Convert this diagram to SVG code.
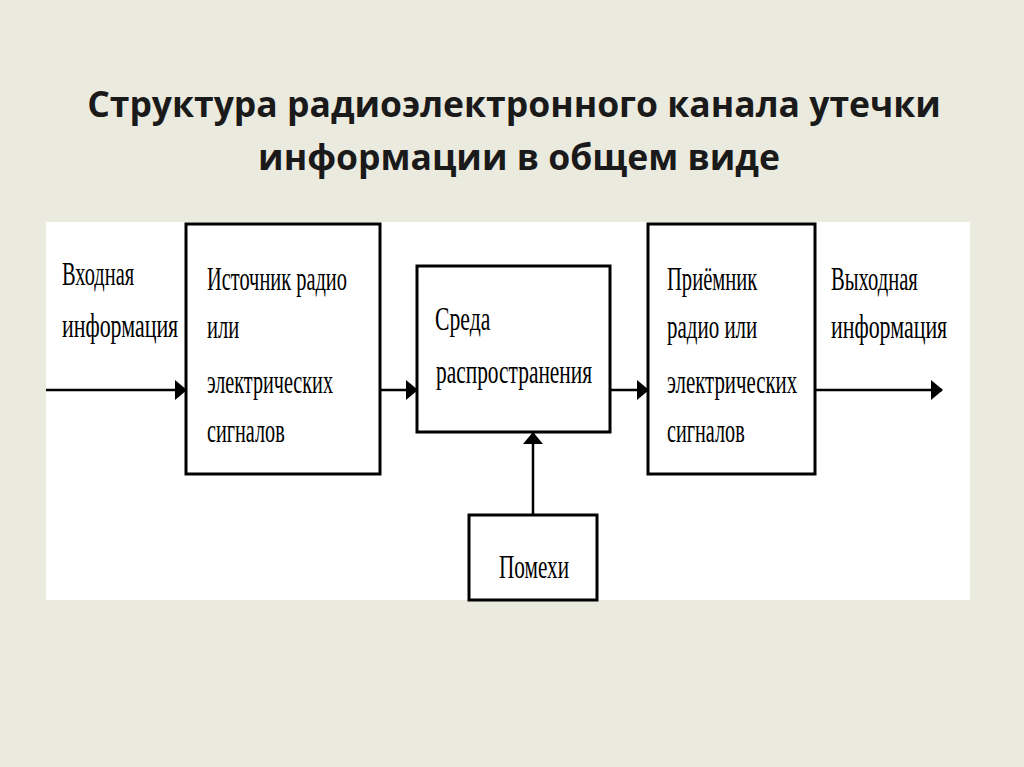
<svg xmlns="http://www.w3.org/2000/svg" width="1024" height="767" viewBox="0 0 1024 767">
<style>
.title{font-family:"Open Sans","Liberation Sans",sans-serif;font-weight:bold;font-size:35.5px;fill:#1a1a1a;text-anchor:middle}
.t{font-family:"Liberation Serif",serif;font-size:34px;fill:#000}
.box{fill:#fff;stroke:#000;stroke-width:3}
.ln{stroke:#000;stroke-width:2.5;fill:none}
</style>
<defs>
<marker id="ah" markerWidth="12" markerHeight="20" refX="11" refY="10" orient="auto" markerUnits="userSpaceOnUse">
<path d="M0,0 L12,10 L0,20 Z" fill="#000"/>
</marker>
</defs>
<rect x="0" y="0" width="1024" height="767" fill="#ebeadf"/>
<rect x="46" y="222" width="924" height="378" fill="#fff"/>
<text class="title" x="514" y="117">Структура радиоэлектронного канала утечки</text>
<text class="title" x="519" y="170">информации в общем виде</text>
<g id="connectors">
<line class="ln" x1="46" y1="390" x2="186" y2="390" marker-end="url(#ah)"/>
<line class="ln" x1="380" y1="390" x2="417" y2="390" marker-end="url(#ah)"/>
<line class="ln" x1="610" y1="390" x2="648" y2="390" marker-end="url(#ah)"/>
<line class="ln" x1="815" y1="390" x2="942" y2="390" marker-end="url(#ah)"/>
<line class="ln" x1="533" y1="515" x2="533" y2="433" marker-end="url(#ah)"/>
</g>
<g id="input">
<text class="t" transform="translate(62,285) scale(0.7,1)" textLength="103" lengthAdjust="spacingAndGlyphs">Входная</text>
<text class="t" transform="translate(62,337) scale(0.7,1)" textLength="166" lengthAdjust="spacingAndGlyphs">информация</text>
</g>
<g id="source">
<rect class="box" x="186" y="224" width="194" height="250"/>
<text class="t" transform="translate(207,290) scale(0.7,1)" textLength="200" lengthAdjust="spacingAndGlyphs">Источник радио</text>
<text class="t" transform="translate(207,338) scale(0.7,1)" textLength="46" lengthAdjust="spacingAndGlyphs">или</text>
<text class="t" transform="translate(207,393) scale(0.7,1)" textLength="180" lengthAdjust="spacingAndGlyphs">электрических</text>
<text class="t" transform="translate(207,442) scale(0.7,1)" textLength="111" lengthAdjust="spacingAndGlyphs">сигналов</text>
</g>
<g id="medium">
<rect class="box" x="417" y="266" width="193" height="166"/>
<text class="t" transform="translate(435,330) scale(0.7,1)" textLength="79" lengthAdjust="spacingAndGlyphs">Среда</text>
<text class="t" transform="translate(436,383) scale(0.7,1)" textLength="223" lengthAdjust="spacingAndGlyphs">распространения</text>
</g>
<g id="receiver">
<rect class="box" x="648" y="224" width="167" height="250"/>
<text class="t" transform="translate(667,290) scale(0.7,1)" textLength="129" lengthAdjust="spacingAndGlyphs">Приёмник</text>
<text class="t" transform="translate(667,338) scale(0.7,1)" textLength="129" lengthAdjust="spacingAndGlyphs">радио или</text>
<text class="t" transform="translate(667,393) scale(0.7,1)" textLength="186" lengthAdjust="spacingAndGlyphs">электрических</text>
<text class="t" transform="translate(667,442) scale(0.7,1)" textLength="111" lengthAdjust="spacingAndGlyphs">сигналов</text>
</g>
<g id="output">
<text class="t" transform="translate(831,290) scale(0.7,1)" textLength="124" lengthAdjust="spacingAndGlyphs">Выходная</text>
<text class="t" transform="translate(831,338) scale(0.7,1)" textLength="166" lengthAdjust="spacingAndGlyphs">информация</text>
</g>
<g id="noise">
<rect class="box" x="469" y="515" width="128" height="85"/>
<text class="t" transform="translate(499,578) scale(0.7,1)" textLength="100" lengthAdjust="spacingAndGlyphs">Помехи</text>
</g>
</svg>
